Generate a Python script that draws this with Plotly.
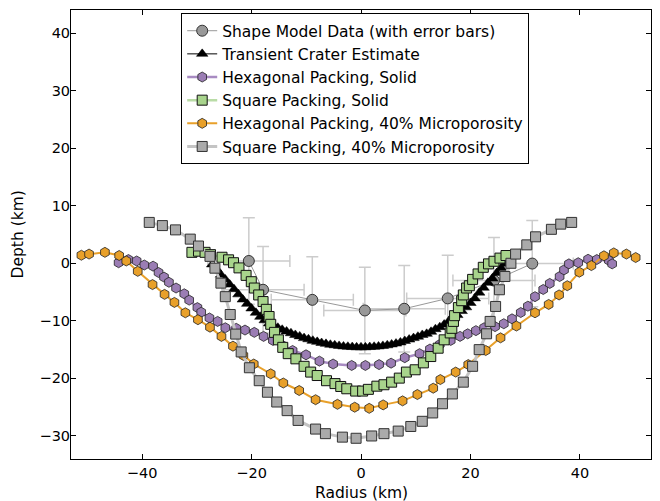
import plotly.graph_objects as go

# ---------------- data ----------------
sm_x = [-20.5, -17.9, -8.9, 0.7, 7.9, 15.85, 24.3, 31.3]
sm_y = [0.4, -4.6, -6.35, -8.2, -7.9, -6.1, -3.0, -0.05]
sm_xerr = [7.5, 7.5, 7.5, 7.5, 7.5, 7.5, 7.5, 7.5]
sm_yerr = [7.5, 7.5, 7.5, 7.5, 7.5, 7.5, 7.5, 7.5]

tc_x = [-27.2, -26.4, -25.6, -24.8, -24.0, -23.2, -22.4, -21.6, -20.8, -20.0,
        -19.2, -18.4, -17.6, -16.8, -16.0, -15.2, -14.4, -13.6, -12.8, -12.0,
        -11.2, -10.4, -9.6, -8.8, -8.0, -7.2, -6.4, -5.6, -4.8, -4.0,
        -3.2, -2.4, -1.6, -0.8, 0.0, 0.8, 1.6, 2.4, 3.2, 4.0,
        4.8, 5.6, 6.4, 7.2, 8.0, 8.8, 9.6, 10.4, 11.2, 12.0,
        12.8, 13.6, 14.4, 15.2, 16.0, 16.8, 17.6, 18.4, 19.2, 20.0,
        20.8, 21.6, 22.4, 23.2, 24.0, 24.8, 25.6, 26.4, 27.2]
tc_y = [-0.2, -1.0, -2.0, -2.8, -3.7, -4.5, -5.4, -6.3, -7.05, -7.85,
        -8.6, -9.3, -9.9, -10.45, -10.8, -11.2, -11.55, -11.85, -12.15, -12.45,
        -12.7, -13.0, -13.2, -13.45, -13.65, -13.85, -14.0, -14.15, -14.25, -14.35,
        -14.45, -14.5, -14.55, -14.6, -14.6, -14.6, -14.55, -14.5, -14.45, -14.35,
        -14.25, -14.1, -13.95, -13.75, -13.5, -13.25, -13.0, -12.75, -12.45, -12.25,
        -11.9, -11.45, -11.1, -10.65, -10.1, -9.6, -9.0, -8.3, -7.65, -6.9,
        -6.1, -5.1, -4.25, -3.4, -2.65, -1.7, -0.8, -0.1, 0.5]

hs_x = [-44.3, -42.5, -41.0, -39.6, -38.0, -37.0, -36.0, -35.1, -33.8, -32.3,
        -31.4, -29.9, -29.2, -27.7, -26.2, -24.8, -22.8, -21.2, -19.5, -17.8,
        -16.1, -14.3, -12.5, -10.05, -7.6, -5.1, -1.7, 0.8, 3.3, 5.5,
        8.0, 10.7, 12.6, 14.4, 16.4, 18.1, 19.5, 21.0, 22.5, 24.5,
        26.1, 27.6, 29.2, 30.5, 31.8, 33.3, 34.5, 36.3, 37.1, 38.0,
        39.7, 41.5, 43.1, 45.3, 45.9]
hs_y = [0.1, 0.65, 0.4, -0.3, -0.5, -1.6, -2.4, -3.3, -4.3, -5.3,
        -6.4, -7.7, -8.5, -9.5, -10.1, -11.2, -11.3, -11.6, -12.0, -12.7,
        -13.4, -14.3, -15.15, -15.9, -17.0, -17.5, -17.75, -17.75, -17.6, -17.35,
        -16.4, -15.7, -14.9, -14.1, -13.4, -12.7, -12.25, -11.7, -11.2, -11.0,
        -10.5, -9.65, -8.55, -7.45, -5.8, -4.55, -3.5, -2.3, -1.15, -0.1,
        0.1, 0.7, 0.65, 0.5, -0.1]

ss_x = [-30.9, -29.7, -28.5, -27.5, -25.4, -24.2, -23.3, -22.3, -21.0, -20.05,
        -19.5, -18.7, -17.9, -17.3, -16.8, -16.5, -15.8, -15.1, -14.3, -13.3,
        -11.9, -10.4, -9.2, -8.0, -6.3, -4.75, -3.7, -2.6, -0.97, 0.3,
        1.35, 2.9, 4.2, 5.6, 7.0, 8.3, 9.9, 11.4, 12.75, 14.1,
        15.2, 16.3, 16.6, 16.9, 17.1, 17.8, 18.4, 18.7, 19.3, 19.8,
        20.4, 21.4, 22.35, 23.3, 24.3, 25.4, 26.5]
ss_y = [1.9, 2.1, 1.9, 1.5, 1.05, 0.6, 0.1, -0.8, -2.1, -3.2,
        -4.3, -5.5, -6.65, -8.0, -9.25, -10.6, -12.0, -13.3, -14.6, -15.7,
        -16.6, -17.9, -18.9, -19.5, -20.4, -20.9, -21.4, -21.8, -22.2, -22.2,
        -21.9, -21.35, -21.1, -20.65, -19.95, -18.9, -18.5, -17.3, -16.2, -14.75,
        -13.3, -12.1, -11.3, -10.1, -9.1, -7.7, -6.5, -5.5, -4.3, -3.9,
        -2.8, -1.85, -0.7, -0.1, 0.35, 0.9, 1.35]

hm_x = [-51.1, -49.7, -46.8, -44.2, -42.9, -40.8, -38.1, -35.9, -34.1, -32.1,
        -29.8, -27.6, -25.5, -23.4, -21.5, -19.6, -16.5, -14.2, -11.3, -8.3,
        -4.3, -1.15, 1.5, 4.05, 7.6, 10.3, 13.2, 14.5, 17.3, 19.6,
        22.8, 25.5, 28.4, 31.8, 34.3, 36.2, 37.7, 39.9, 42.1, 44.4,
        46.2, 48.5, 50.2]
hm_y = [1.4, 1.6, 1.9, 1.35, 0.4, -1.4, -3.7, -5.4, -6.8, -8.6,
        -9.8, -11.1, -12.7, -14.4, -16.0, -17.5, -19.2, -20.8, -22.1, -23.7,
        -24.5, -25.0, -25.2, -24.6, -23.9, -22.8, -21.7, -20.2, -18.9, -17.6,
        -15.15, -12.95, -10.9, -8.6, -7.15, -5.5, -3.9, -1.55, -0.4, 1.3,
        1.8, 1.6, 1.0]

sm40_x = [-38.7, -36.3, -33.9, -31.2, -29.7, -27.6, -26.7, -25.6, -24.8, -23.9,
          -22.9, -21.9, -20.4, -18.6, -17.1, -15.4, -13.5, -11.5, -8.3, -6.5,
          -3.4, -0.9, 1.95, 4.2, 6.8, 9.1, 11.2, 13.1, 14.9, 16.7,
          18.7, 20.4, 21.6, 22.95, 23.6, 24.6, 25.3, 26.3, 27.4, 28.25,
          30.3, 31.9, 34.8, 36.5, 38.5]
sm40_y = [7.1, 6.55, 5.8, 4.2, 3.0, 1.2, -0.85, -3.45, -5.8, -8.9,
          -12.3, -15.4, -18.15, -20.4, -22.4, -24.1, -25.6, -27.3, -28.8, -29.6,
          -30.2, -30.4, -30.0, -29.6, -29.15, -28.35, -27.45, -26.0, -24.4, -22.7,
          -20.65, -17.9, -15.0, -12.25, -10.1, -7.5, -4.6, -2.3, 0.0, 1.6,
          3.2, 4.6, 5.9, 6.8, 7.1]

x_ticks = [-40, -20, 0, 20, 40]
y_ticks = [-30, -20, -10, 0, 10, 20, 30, 40]
x_title = "Radius (km)"
y_title = "Depth (km)"

FONT = "DejaVu Sans"

fig = go.Figure()

fig.add_trace(go.Scatter(
    x=sm_x, y=sm_y, mode="lines+markers", name="Shape Model Data (with error bars)",
    legendgroup="a",
    line=dict(color="#999999", width=1),
    marker=dict(symbol="circle", size=11, color="#999999", line=dict(color="#333333", width=1)),
    error_x=dict(type="data", array=sm_xerr, color="#cccccc", thickness=1.5, width=6),
    error_y=dict(type="data", array=sm_yerr, color="#cccccc", thickness=1.5, width=6),
))
fig.add_trace(go.Scatter(
    x=tc_x, y=tc_y, mode="lines+markers", name="Transient Crater Estimate",
    legendgroup="b",
    line=dict(color="black", width=1),
    marker=dict(symbol="triangle-up", size=10, color="black", line=dict(color="black", width=0.5)),
))
fig.add_trace(go.Scatter(
    x=hs_x, y=hs_y, mode="lines+markers", name="Hexagonal Packing, Solid",
    legendgroup="c",
    line=dict(color="#a88bc2", width=2.5),
    marker=dict(symbol="hexagon", size=10, color="#9b7db4", line=dict(color="#222222", width=0.8)),
))
fig.add_trace(go.Scatter(
    x=ss_x, y=ss_y, mode="lines+markers", name="Square Packing, Solid",
    legendgroup="d",
    line=dict(color="#b9dca6", width=2.5),
    marker=dict(symbol="square", size=10, color="#a8d48c", line=dict(color="#111111", width=1)),
))
fig.add_trace(go.Scatter(
    x=hm_x, y=hm_y, mode="lines+markers", name="Hexagonal Packing, 40% Microporosity",
    legendgroup="e",
    line=dict(color="#e8a02a", width=2),
    marker=dict(symbol="hexagon", size=10, color="#e8a02a", line=dict(color="#222222", width=0.8)),
))
fig.add_trace(go.Scatter(
    x=sm40_x, y=sm40_y, mode="lines+markers", name="Square Packing, 40% Microporosity",
    legendgroup="f",
    line=dict(color="#c4c4c4", width=3),
    marker=dict(symbol="square", size=10, color="#aaaaaa", line=dict(color="#333333", width=1)),
))

axis_common = dict(
    showline=True, mirror="ticks", linecolor="black", linewidth=1,
    ticks="inside", ticklen=5, tickcolor="black", tickwidth=1,
    showgrid=False, zeroline=False, automargin=False,
    tickfont=dict(family=FONT, size=14.5, color="black"),
)

fig.update_layout(
    width=660, height=501,
    margin=dict(l=71, r=9, t=10, b=42),
    paper_bgcolor="white", plot_bgcolor="white",
    font=dict(family=FONT, size=14, color="black"),
    xaxis=dict(range=[-53, 53], tickvals=x_ticks, ticklabelstandoff=1, **axis_common),
    yaxis=dict(range=[-34, 44], tickvals=y_ticks, ticklabelstandoff=-3, **axis_common),
    legend=dict(
        x=0.19, y=0.993, xanchor="left", yanchor="top",
        bgcolor="white", bordercolor="black", borderwidth=1,
        font=dict(family=FONT, size=15.5, color="black"),
        tracegroupgap=0, traceorder="grouped",
    ),
    showlegend=True,
    annotations=[
        dict(text=x_title, xref="paper", yref="paper", x=0.5, y=0,
             xanchor="center", yanchor="middle", yshift=-34, showarrow=False,
             font=dict(family=FONT, size=15.5, color="black")),
        dict(text=y_title, xref="paper", yref="paper", x=0, y=0.5,
             xanchor="center", yanchor="middle", xshift=-54, textangle=-90,
             showarrow=False, font=dict(family=FONT, size=15.5, color="black")),
    ],
)

fig.write_html("out.html")
